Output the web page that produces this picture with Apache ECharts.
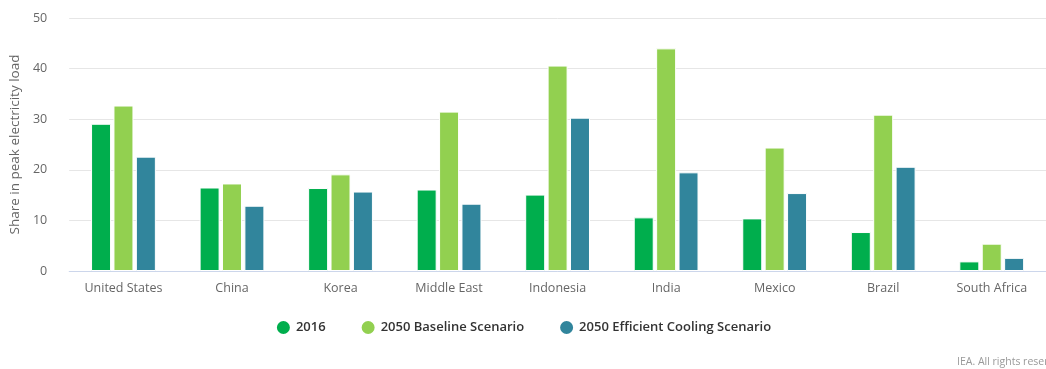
<!DOCTYPE html>
<html>
<head>
<meta charset="utf-8">
<script src="https://cdn.jsdelivr.net/npm/echarts@6/dist/echarts.min.js"></script>
<style>
  html, body { margin: 0; padding: 0; background: #fff; }
  #main { width: 1046px; height: 369px; }
</style>
</head>
<body>
<div id="main"></div>
<script>
// countries on the x axis
var countries = ['United States', 'China', 'Korea', 'Middle East', 'Indonesia', 'India', 'Mexico', 'Brazil', 'South Africa'];
// share in peak electricity load (%)
var y2016 = [29.1, 16.5, 16.4, 16.1, 15.1, 10.6, 10.4, 7.7, 1.9];
var baseline2050 = [32.7, 17.3, 19.1, 31.5, 40.6, 44.0, 24.4, 30.9, 5.4];
var efficient2050 = [22.6, 12.9, 15.7, 13.3, 30.3, 19.5, 15.4, 20.6, 2.6];
var yTicks = [0, 10, 20, 30, 40, 50];

var chart = echarts.init(document.getElementById('main'));

function bar(name, data, color) {
  return {
    name: name,
    type: 'bar',
    data: data,
    barWidth: 20,
    barGap: '12%',
    itemStyle: { color: color, borderColor: '#fff', borderWidth: 1 }
  };
}

chart.setOption({
  animation: false,
  textStyle: { fontFamily: 'Open Sans' },
  grid: { left: 65, top: 18, bottom: 98, width: 988 },
  legend: {
    top: 314,
    left: 'center',
    icon: 'circle',
    itemWidth: 15,
    itemHeight: 15,
    itemGap: 34,
    textStyle: { fontSize: 13, fontWeight: 600, color: '#333' }
  },
  xAxis: {
    type: 'category',
    data: countries,
    axisTick: { show: false },
    axisLine: { lineStyle: { color: '#ccd6eb' } },
    axisLabel: { color: '#666', fontSize: 12.5, margin: 11 }
  },
  yAxis: {
    type: 'value',
    min: yTicks[0],
    max: yTicks[yTicks.length - 1],
    interval: 10,
    name: 'Share in peak electricity load',
    nameLocation: 'middle',
    nameGap: 41,
    nameTextStyle: { color: '#666', fontSize: 13.5 },
    axisLabel: { color: '#666', fontSize: 12.5, margin: 22 },
    splitLine: { lineStyle: { color: '#e6e6e6' } }
  },
  series: [
    bar('2016', y2016, '#00ae4d'),
    bar('2050 Baseline Scenario', baseline2050, '#92d050'),
    bar('2050 Efficient Cooling Scenario', efficient2050, '#31859c')
  ],
  graphic: [{
    type: 'text',
    left: 957,
    top: 357,
    style: { text: 'IEA. All rights reserved.', fill: '#999', font: '10.5px "Open Sans"' }
  }]
});
</script>
</body>
</html>
